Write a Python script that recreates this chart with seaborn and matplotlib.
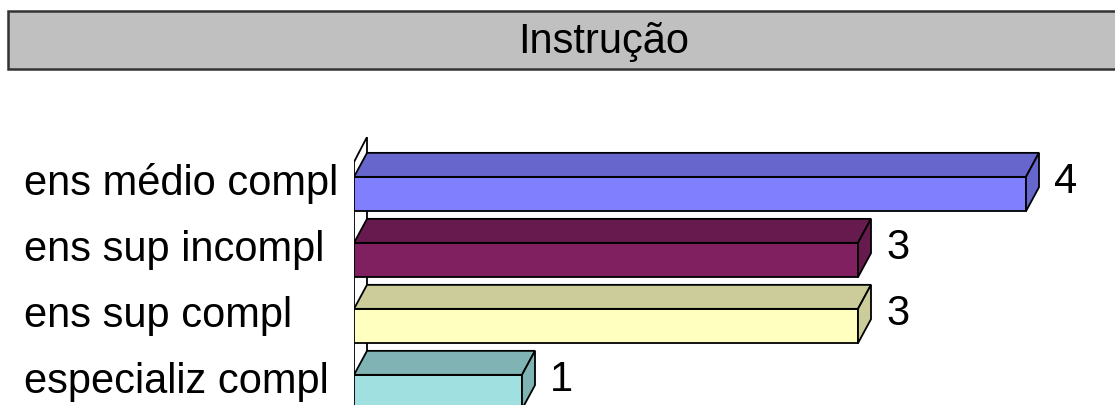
import numpy as np
import seaborn as sns
import matplotlib
matplotlib.use('Agg')
from matplotlib import pyplot as plt
from matplotlib.patches import Polygon, Rectangle

categories = ['ens médio compl', 'ens sup incompl', 'ens sup compl', 'especializ compl']
values = [4, 3, 3, 1]
front_colors = ['#8080ff', '#802060', '#ffffc0', '#a0e0e0']
top_colors = ['#6666cc', '#661a4d', '#cccc9a', '#80b3b3']
title = 'Instrução'

sns.set_style('white')
plt.rcParams['font.family'] = ['Liberation Sans', 'DejaVu Sans']
plt.rcParams['text.color'] = 'black'
plt.rcParams['ytick.color'] = 'black'
plt.rcParams['ytick.labelcolor'] = 'black'

fig = plt.figure(figsize=(11.15, 4.06), dpi=100)
ax = fig.add_axes([354 / 1115, 0, (1110 - 354) / 1115, 268 / 406])

lw = 1.3
sns.barplot(x=values, y=categories, hue=categories, palette=front_colors, orient='h', saturation=1,
            width=0.52, edgecolor='black', linewidth=lw, legend=False, ax=ax, zorder=3)

ax.set_xlim(0, 4.5)
ax.set_ylim(3.197, -0.864)

# depth of the fake 3d effect in data units
dx = 13 / 168
dy = 24 / 66

# side wall
wall_top = -0.485
wall = Polygon([(0, 3.3), (0, wall_top), (dx, wall_top - 25 / 66), (dx, 3.3)],
               closed=True, facecolor='white', edgecolor='black', linewidth=lw, zorder=1)
ax.add_patch(wall)

for i, bar in enumerate(ax.patches[:len(values)]):
    x0 = bar.get_x()
    x1 = x0 + bar.get_width()
    y_a = bar.get_y()
    y_b = y_a + bar.get_height()
    y_top = min(y_a, y_b)
    y_bot = max(y_a, y_b)
    top = Polygon([(x0, y_top), (x0 + dx, y_top - dy), (x1 + dx, y_top - dy), (x1, y_top)],
                  closed=True, facecolor=top_colors[i], edgecolor='black', linewidth=lw, zorder=3)
    side = Polygon([(x1, y_top), (x1 + dx, y_top - dy), (x1 + dx, y_bot - dy), (x1, y_bot)],
                   closed=True, facecolor=top_colors[i], edgecolor='black', linewidth=lw, zorder=3)
    ax.add_patch(top)
    ax.add_patch(side)
    ax.text(x1 + dx + 0.09, (y_top + y_bot) / 2 - 0.03 - dy / 2 + 0.18, str(values[i]),
            fontsize=30, ha='left', va='baseline', color='black')

for s in ax.spines.values():
    s.set_visible(False)
ax.set_xticks([])
ax.set_xlabel('')
ax.set_ylabel('')
ax.set_yticks(range(len(categories)))
ax.set_yticklabels(categories, fontsize=30, ha='left', color='black')
ax.tick_params(axis='y', length=0, pad=237.6)
for lbl in ax.get_yticklabels():
    lbl.set_verticalalignment('baseline')

# title box
fig.patches.append(Rectangle((8 / 1115, (406 - 70) / 406), 1.1, 58 / 406, transform=fig.transFigure,
                             facecolor='#c0c0c0', edgecolor='#333333', linewidth=1.8, zorder=0))
fig.text(603.5 / 1115, (406 - 53) / 406, title, fontsize=30, ha='center', va='baseline', color='black')

fig.savefig('out.png', dpi=100)
